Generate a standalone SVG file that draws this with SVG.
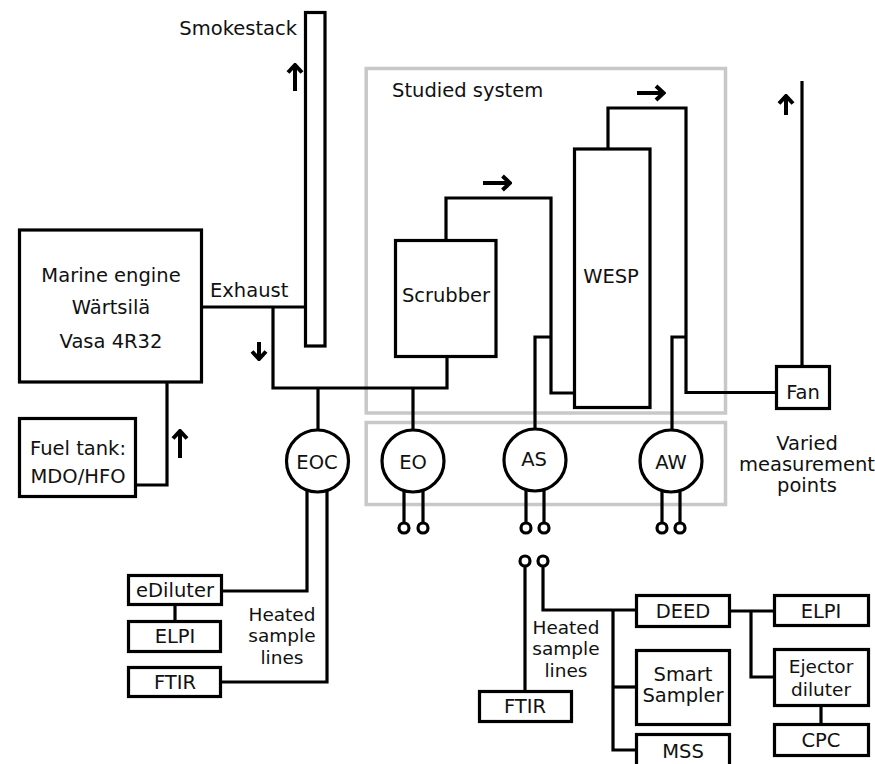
<svg xmlns="http://www.w3.org/2000/svg" width="875" height="764" viewBox="0 0 875 764">
<style>
.ln{fill:none;stroke:#000;stroke-width:3.2}
.bx{fill:#fff;stroke:#000;stroke-width:3.2}
.gb{fill:none;stroke:#c8c8c8;stroke-width:3.5}
.ar{fill:none;stroke:#000;stroke-width:4}
.t{font-family:"DejaVu Sans",Verdana,sans-serif;font-size:19.5px;fill:#111}
.s{font-size:18.5px}
.c{text-anchor:middle}
</style>
<defs>
<marker id="ah" markerUnits="userSpaceOnUse" viewBox="-12 -10 14 20" markerWidth="14" markerHeight="20" refX="0" refY="0" orient="auto">
<path d="M-7.5,-7 L0,0 L-7.5,7" fill="none" stroke="#000" stroke-width="4" stroke-linejoin="miter"/>
</marker>
</defs>
<rect width="875" height="764" fill="#fff"/>

<g id="studied-system">
<rect class="gb" x="366.2" y="68.5" width="359.3" height="344.5"/>
<text class="t" x="392" y="97">Studied system</text>
</g>
<g id="sampling-zone">
<rect class="gb" x="366.2" y="422.5" width="359.3" height="82"/>
</g>

<g id="connectors">
<path class="ln" d="M201.5,307 H305.5"/>
<path class="ln" d="M273,307 V388 H447 V356.5"/>
<path class="ln" d="M318,388 V430"/>
<path class="ln" d="M413,388 V430"/>
<path class="ln" d="M446,240.5 V198 H551 V393 H574.5"/>
<path class="ln" d="M551,337 H535 V429"/>
<path class="ln" d="M608,149 V108 H686 V392.5 H776.5"/>
<path class="ln" d="M686,337 H672 V430"/>
<path class="ln" d="M802,366.5 V81"/>
<path class="ln" d="M167,382 V485 H135.5"/>
<path class="ln" d="M307,490 V591 H221.5"/>
<path class="ln" d="M327,490 V682 H220.5"/>
<path class="ln" d="M175,604.5 V621.5"/>
<path class="ln" d="M404,488 V523 M423,488 V523"/>
<path class="ln" d="M526,488 V523 M544,488 V523"/>
<path class="ln" d="M662,488 V523 M680,488 V523"/>
<path class="ln" d="M525,566 V691.5"/>
<path class="ln" d="M543,566 V610 H636.5"/>
<path class="ln" d="M613,610 V750 H636.5"/>
<path class="ln" d="M613,687 H636.5"/>
<path class="ln" d="M729.5,611 H774.5"/>
<path class="ln" d="M751,611 V677 H774.5"/>
<path class="ln" d="M821,705.5 V724.5"/>
<circle class="bx" cx="404" cy="528" r="5"/>
<circle class="bx" cx="423" cy="528" r="5"/>
<circle class="bx" cx="526" cy="528" r="5"/>
<circle class="bx" cx="544" cy="528" r="5"/>
<circle class="bx" cx="662" cy="528" r="5"/>
<circle class="bx" cx="680" cy="528" r="5"/>
<circle class="bx" cx="525" cy="561" r="5"/>
<circle class="bx" cx="543" cy="561" r="5"/>
<path class="ar" d="M295,91 V65" marker-end="url(#ah)"/>
<path class="ar" d="M259,342 V359" marker-end="url(#ah)"/>
<path class="ar" d="M180,458 V431" marker-end="url(#ah)"/>
<path class="ar" d="M483,183 H510" marker-end="url(#ah)"/>
<path class="ar" d="M637,93 H663.5" marker-end="url(#ah)"/>
<path class="ar" d="M786,115 V96" marker-end="url(#ah)"/>
</g>

<g id="smokestack">
<rect class="bx" x="305.5" y="12.5" width="19.5" height="333.5"/>
<text class="t" x="297" y="35" text-anchor="end">Smokestack</text>
</g>
<g id="engine">
<rect class="bx" x="19.5" y="230" width="182" height="152"/>
<text class="t c" x="111" y="282">Marine engine</text>
<text class="t c" x="111" y="314">Wärtsilä</text>
<text class="t c" x="111" y="348">Vasa 4R32</text>
</g>
<text class="t" x="210" y="297">Exhaust</text>
<g id="fuel-tank">
<rect class="bx" x="19.5" y="418.5" width="116" height="78"/>
<text class="t c" x="78" y="455">Fuel tank:</text>
<text class="t c" x="78" y="483">MDO/HFO</text>
</g>
<g id="scrubber">
<rect class="bx" x="395.5" y="240.5" width="100.5" height="116"/>
<text class="t c" x="446" y="302">Scrubber</text>
</g>
<g id="wesp">
<rect class="bx" x="574.5" y="149" width="75.5" height="258.5"/>
<text class="t c" x="611" y="283">WESP</text>
</g>
<g id="fan">
<rect class="bx" x="776.5" y="366.5" width="53" height="42"/>
<text class="t c" x="803" y="399">Fan</text>
<text class="t c" x="807" y="450">Varied</text>
<text class="t c" x="807" y="471">measurement</text>
<text class="t c" x="807" y="492">points</text>
</g>
<g id="eoc">
<circle class="bx" cx="317.5" cy="461" r="31"/>
<text class="t c" x="317" y="469">EOC</text>
</g>
<g id="eo">
<circle class="bx" cx="413" cy="461" r="31"/>
<text class="t c" x="413" y="469">EO</text>
</g>
<g id="as">
<circle class="bx" cx="535" cy="460" r="31"/>
<text class="t c" x="534" y="466">AS</text>
</g>
<g id="aw">
<circle class="bx" cx="671" cy="461" r="31"/>
<text class="t c" x="671" y="469">AW</text>
</g>
<g id="ediluter">
<rect class="bx" x="128.5" y="575.5" width="93" height="29"/>
<text class="t c" x="175" y="597">eDiluter</text>
</g>
<g id="elpi-left">
<rect class="bx" x="128.5" y="621.5" width="92" height="30"/>
<text class="t c" x="175" y="643">ELPI</text>
</g>
<g id="ftir-left">
<rect class="bx" x="128.5" y="667.5" width="92" height="29"/>
<text class="t c" x="175" y="689">FTIR</text>
</g>
<text class="t s c" x="282" y="621">Heated</text>
<text class="t s c" x="282" y="642">sample</text>
<text class="t s c" x="282" y="664">lines</text>
<text class="t s c" x="566" y="634">Heated</text>
<text class="t s c" x="566" y="655">sample</text>
<text class="t s c" x="566" y="677">lines</text>
<g id="ftir-right">
<rect class="bx" x="479.5" y="691.5" width="92" height="30"/>
<text class="t c" x="525" y="713">FTIR</text>
</g>
<g id="deed">
<rect class="bx" x="636.5" y="595.5" width="93" height="31"/>
<text class="t c" x="683" y="618">DEED</text>
</g>
<g id="smart-sampler">
<rect class="bx" x="636.5" y="650.5" width="93" height="74"/>
<text class="t c" x="683" y="681">Smart</text>
<text class="t c" x="683" y="702">Sampler</text>
</g>
<g id="mss">
<rect class="bx" x="636.5" y="734.5" width="93" height="40"/>
<text class="t c" x="683" y="758">MSS</text>
</g>
<g id="elpi-right">
<rect class="bx" x="774.5" y="595.5" width="94" height="30"/>
<text class="t c" x="821" y="618">ELPI</text>
</g>
<g id="ejector-diluter">
<rect class="bx" x="774.5" y="649.5" width="94" height="56"/>
<text class="t s c" x="821" y="673">Ejector</text>
<text class="t s c" x="821" y="696">diluter</text>
</g>
<g id="cpc">
<rect class="bx" x="774.5" y="724.5" width="94" height="31"/>
<text class="t c" x="821" y="747">CPC</text>
</g>
</svg>
